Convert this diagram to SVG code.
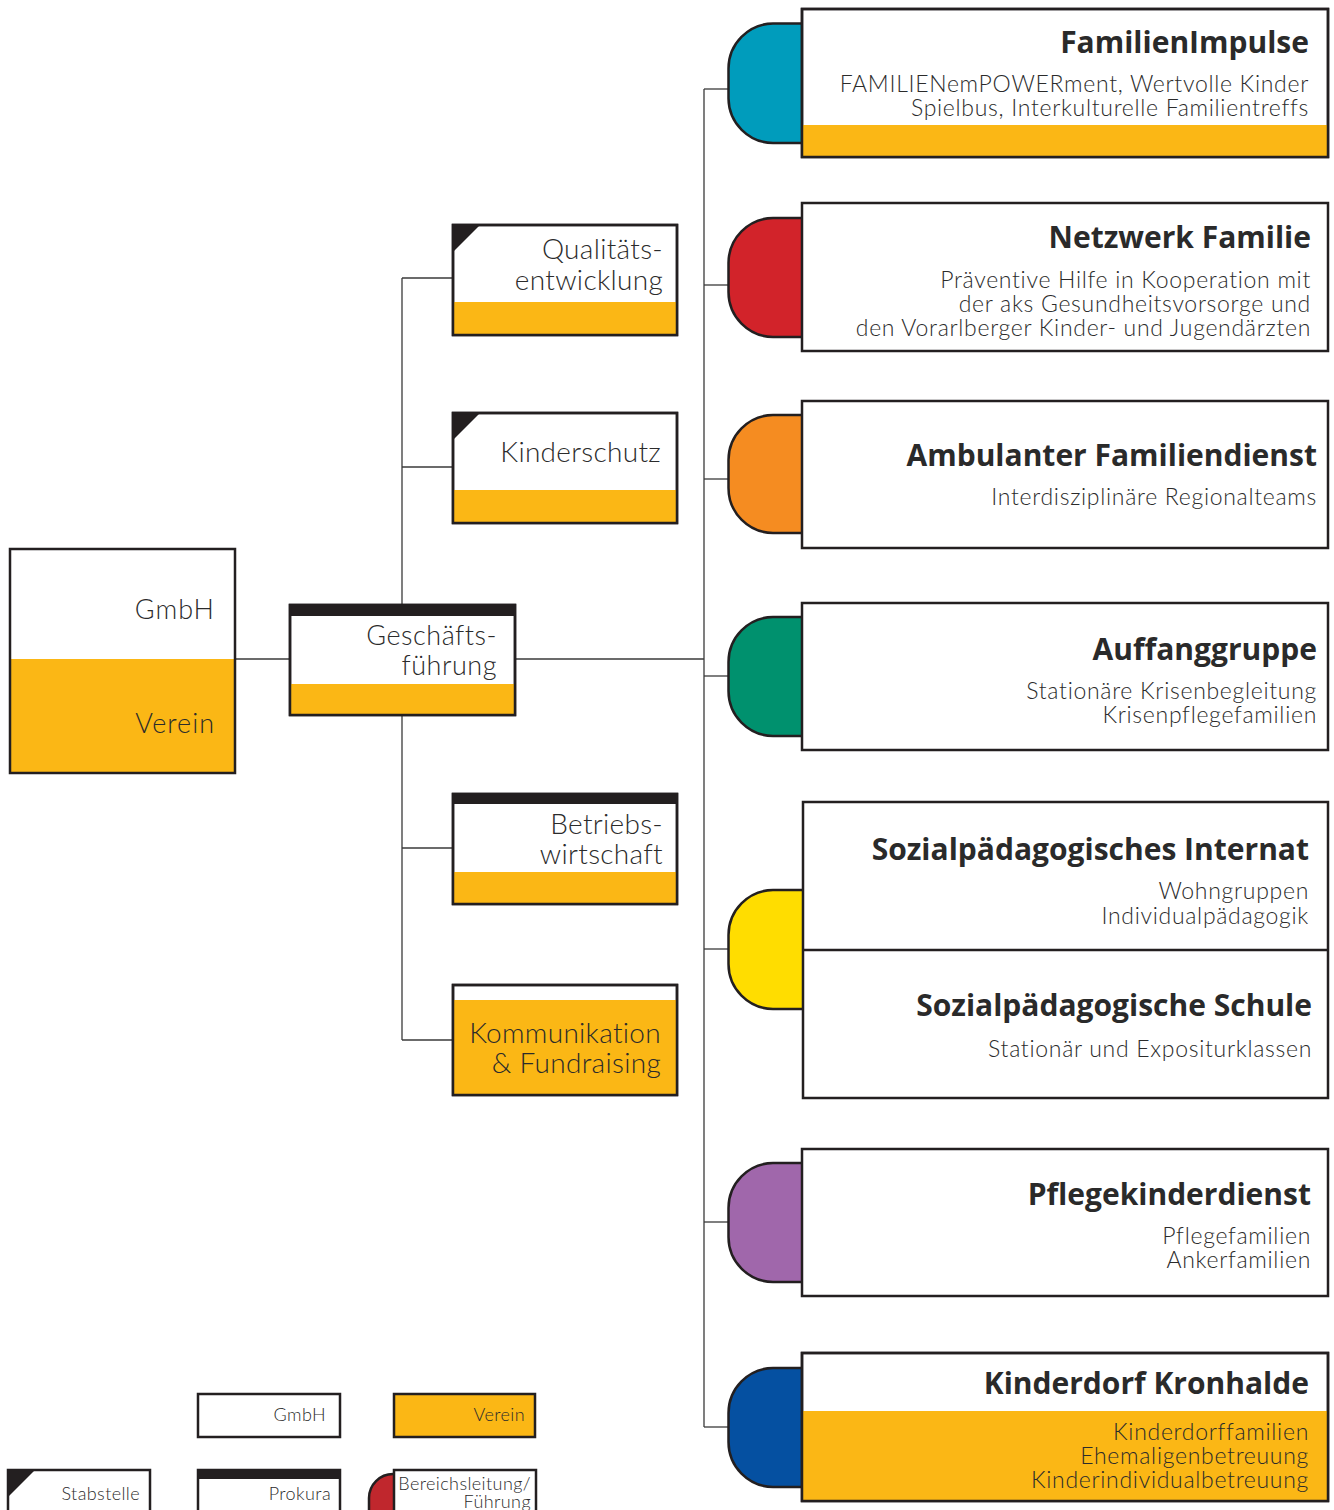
<svg xmlns="http://www.w3.org/2000/svg" width="1334" height="1510" viewBox="0 0 1334 1510">
<style>
.box{fill:#fff;stroke:#231f20;stroke-width:2.5}
.boxo{fill:none;stroke:#231f20;stroke-width:2.5}
.yel{fill:#fbb715}
.dark{fill:#231f20}
.cap{stroke:#231f20;stroke-width:2.5}
.ln{stroke:#3a3a3a;stroke-width:1.3;fill:none}
text{font-family:Lato,"Open Sans",sans-serif;fill:#2b2b2b;text-anchor:end;font-weight:300}
.t{font-family:"Open Sans",Lato,sans-serif;font-weight:700;font-size:30px;fill:#2a2a2a}
.b{font-size:23px;letter-spacing:0.7px}
.m{font-size:28px;letter-spacing:0.3px}
.g{font-size:27px;letter-spacing:1px}
.gf{font-size:27px;letter-spacing:0.5px}
.l{font-size:18px;letter-spacing:0.4px}
</style>

<g id="connectors">
<line class="ln" x1="235" y1="659" x2="289" y2="659"/>
<line class="ln" x1="515" y1="659" x2="704" y2="659"/>
<line class="ln" x1="402" y1="278" x2="402" y2="1040"/>
<line class="ln" x1="402" y1="278" x2="452" y2="278"/>
<line class="ln" x1="402" y1="467" x2="452" y2="467"/>
<line class="ln" x1="402" y1="848" x2="452" y2="848"/>
<line class="ln" x1="402" y1="1040" x2="452" y2="1040"/>
<line class="ln" x1="704" y1="89" x2="704" y2="1427"/>
<line class="ln" x1="704" y1="89" x2="728" y2="89"/>
<line class="ln" x1="704" y1="285" x2="728" y2="285"/>
<line class="ln" x1="704" y1="479" x2="728" y2="479"/>
<line class="ln" x1="704" y1="676" x2="728" y2="676"/>
<line class="ln" x1="704" y1="949" x2="728" y2="949"/>
<line class="ln" x1="704" y1="1222" x2="728" y2="1222"/>
<line class="ln" x1="704" y1="1427" x2="728" y2="1427"/>
</g>

<g id="gmbh-verein">
<rect x="10" y="549" width="225" height="224" fill="#fff"/>
<rect class="yel" x="10" y="659" width="225" height="114"/>
<rect class="boxo" x="10" y="549" width="225" height="224"/>
<text class="g" x="215" y="619">GmbH</text>
<text class="g" x="215" y="733">Verein</text>
</g>

<g id="geschaeftsfuehrung">
<rect class="box" x="290" y="605" width="225" height="110"/>
<rect class="yel" x="291" y="684" width="223" height="30"/>
<rect class="dark" x="290" y="604" width="225" height="12"/>
<rect class="boxo" x="290" y="605" width="225" height="110"/>
<text class="gf" x="497" y="645">Geschäfts-</text>
<text class="gf" x="497" y="675">führung</text>
</g>

<g id="qualitaet">
<rect class="box" x="453" y="225" width="224" height="110"/>
<rect class="yel" x="454" y="302" width="222" height="32"/>
<polygon class="dark" points="453,225 480,225 453,252"/>
<rect class="boxo" x="453" y="225" width="224" height="110"/>
<text class="m" x="663" y="259">Qualitäts-</text>
<text class="m" x="663" y="290">entwicklung</text>
</g>

<g id="kinderschutz">
<rect class="box" x="453" y="413" width="224" height="110"/>
<rect class="yel" x="454" y="490" width="222" height="32"/>
<polygon class="dark" points="453,413 480,413 453,440"/>
<rect class="boxo" x="453" y="413" width="224" height="110"/>
<text class="m" x="661" y="462">Kinderschutz</text>
</g>

<g id="betriebswirtschaft">
<rect class="box" x="453" y="794" width="224" height="110"/>
<rect class="yel" x="454" y="872" width="222" height="31"/>
<rect class="dark" x="453" y="793" width="224" height="11"/>
<rect class="boxo" x="453" y="794" width="224" height="110"/>
<text class="m" x="663" y="834">Betriebs-</text>
<text class="m" x="663" y="864">wirtschaft</text>
</g>

<g id="kommunikation">
<rect class="box" x="453" y="985" width="224" height="110"/>
<rect class="yel" x="454" y="1000" width="222" height="94"/>
<rect class="boxo" x="453" y="985" width="224" height="110"/>
<text class="m" x="661" y="1043">Kommunikation</text>
<text class="m" x="661" y="1073">&amp; Fundraising</text>
</g>

<g id="familienimpulse">
<path class="cap" fill="#009cbc" d="M806 23.5H773A45 45 0 0 0 728.5 68.5V98.5A45 45 0 0 0 773 143H806Z"/>
<rect class="box" x="802" y="9" width="526" height="148"/>
<rect class="yel" x="803" y="125" width="524" height="31"/>
<rect class="boxo" x="802" y="9" width="526" height="148"/>
<text class="t" x="1309" y="53">FamilienImpulse</text>
<text class="b" x="1309" y="92">FAMILIENemPOWERment, Wertvolle Kinder</text>
<text class="b" x="1309" y="116">Spielbus, Interkulturelle Familientreffs</text>
</g>

<g id="netzwerk-familie">
<path class="cap" fill="#d2232a" d="M806 218H773A45 45 0 0 0 728.5 263V292A45 45 0 0 0 773 337H806Z"/>
<rect class="box" x="802" y="203" width="526" height="148"/>
<text class="t" x="1311" y="248">Netzwerk Familie</text>
<text class="b" x="1311" y="288">Präventive Hilfe in Kooperation mit</text>
<text class="b" x="1311" y="312">der aks Gesundheitsvorsorge und</text>
<text class="b" x="1311" y="336">den Vorarlberger Kinder- und Jugendärzten</text>
</g>

<g id="ambulanter-familiendienst">
<path class="cap" fill="#f58c21" d="M806 415H773A45 45 0 0 0 728.5 460V488A45 45 0 0 0 773 533H806Z"/>
<rect class="box" x="802" y="401" width="526" height="147"/>
<text class="t" x="1317" y="466">Ambulanter Familiendienst</text>
<text class="b" x="1317" y="505">Interdisziplinäre Regionalteams</text>
</g>

<g id="auffanggruppe">
<path class="cap" fill="#00916e" d="M806 617H773A45 45 0 0 0 728.5 662V691A45 45 0 0 0 773 736H806Z"/>
<rect class="box" x="802" y="603" width="526" height="147"/>
<text class="t" x="1317" y="660">Auffanggruppe</text>
<text class="b" x="1317" y="699">Stationäre Krisenbegleitung</text>
<text class="b" x="1317" y="723">Krisenpflegefamilien</text>
</g>

<g id="internat-schule">
<path class="cap" fill="#ffdd00" d="M806 890H773A45 45 0 0 0 728.5 935V964A45 45 0 0 0 773 1009H806Z"/>
<rect class="box" x="803" y="802" width="525" height="296"/>
<line x1="803" y1="950" x2="1328" y2="950" stroke="#231f20" stroke-width="2.5"/>
<text class="t" x="1309" y="860">Sozialpädagogisches Internat</text>
<text class="b" x="1309" y="899">Wohngruppen</text>
<text class="b" x="1309" y="924">Individualpädagogik</text>
<text class="t" x="1312" y="1016">Sozialpädagogische Schule</text>
<text class="b" x="1312" y="1057">Stationär und Expositurklassen</text>
</g>

<g id="pflegekinderdienst">
<path class="cap" fill="#a067ab" d="M806 1163H773A45 45 0 0 0 728.5 1208V1237A45 45 0 0 0 773 1282H806Z"/>
<rect class="box" x="802" y="1149" width="526" height="147"/>
<text class="t" x="1311" y="1205">Pflegekinderdienst</text>
<text class="b" x="1311" y="1244">Pflegefamilien</text>
<text class="b" x="1311" y="1268">Ankerfamilien</text>
</g>

<g id="kinderdorf-kronhalde">
<path class="cap" fill="#0550a1" d="M806 1368H773A45 45 0 0 0 728.5 1413V1442A45 45 0 0 0 773 1487H806Z"/>
<rect class="box" x="802" y="1353" width="526" height="148"/>
<rect class="yel" x="803" y="1411" width="524" height="89"/>
<rect class="boxo" x="802" y="1353" width="526" height="148"/>
<text class="t" x="1309" y="1394">Kinderdorf Kronhalde</text>
<text class="b" x="1309" y="1440">Kinderdorffamilien</text>
<text class="b" x="1309" y="1464">Ehemaligenbetreuung</text>
<text class="b" x="1309" y="1488">Kinderindividualbetreuung</text>
</g>

<g id="legend">
<g id="legend-gmbh">
<rect class="box" x="198" y="1394" width="142" height="43"/>
<text class="l" x="326" y="1421">GmbH</text>
</g>
<g id="legend-verein">
<rect class="box" x="394" y="1394" width="141" height="43" style="fill:#fbb715"/>
<text class="l" x="525" y="1421">Verein</text>
</g>
<g id="legend-stabstelle">
<rect class="box" x="8" y="1470" width="142" height="50"/>
<polygon class="dark" points="8,1470 35,1470 8,1497"/>
<text class="l" x="140" y="1500">Stabstelle</text>
</g>
<g id="legend-prokura">
<rect class="box" x="198" y="1470" width="142" height="50"/>
<rect class="dark" x="198" y="1469" width="142" height="10"/>
<text class="l" x="331" y="1500">Prokura</text>
</g>
<g id="legend-bereichsleitung">
<path class="cap" fill="#c0272d" d="M397 1474H393A24 24 0 0 0 369 1498V1520H397Z"/>
<rect class="box" x="394" y="1470" width="142" height="50"/>
<text class="l" x="531" y="1490">Bereichsleitung/</text>
<text class="l" x="531" y="1508">Führung</text>
</g>
</g>
</svg>
